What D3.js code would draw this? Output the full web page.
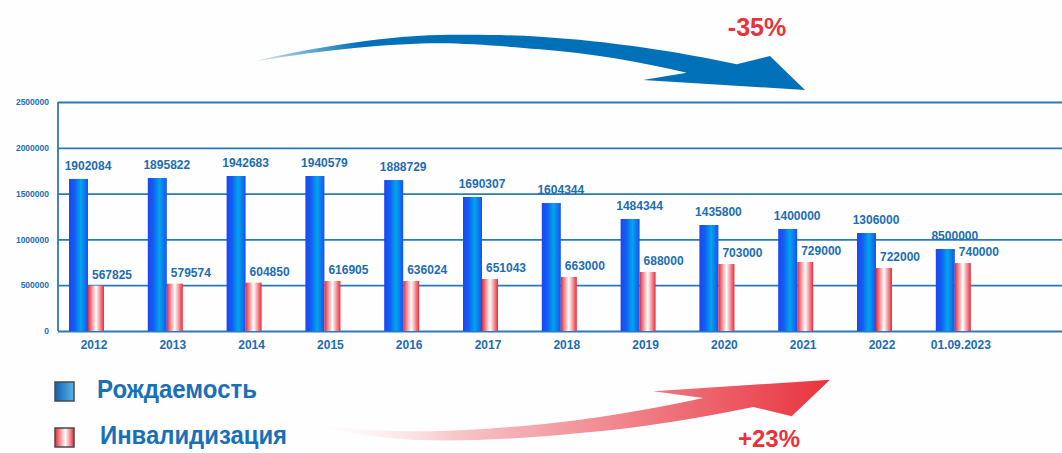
<!DOCTYPE html>
<html>
<head>
<meta charset="utf-8">
<script src="https://cdn.jsdelivr.net/npm/d3@7"></script>
<style>
    html, body { margin: 0; padding: 0; background: #fefefe; }
    svg { display: block; font-family: "Liberation Sans", Arial, sans-serif; }
</style>
</head>
<body>
<svg id="chart" width="1062" height="453"></svg>
<script>
// categories and values
const categories = ["2012", "2013", "2014", "2015", "2016", "2017", "2018", "2019", "2020", "2021", "2022", "01.09.2023"];
// bar heights as drawn in the picture
const birthValues = [1660000, 1670000, 1692000, 1692000, 1648000, 1463000, 1397000, 1223000, 1157000, 1114000, 1070000, 895000];
const disabilityValues = [495000, 517000, 528000, 546000, 546000, 568000, 590000, 644000, 731000, 753000, 688000, 742000];
// labels printed above the bars
const birthLabels = ["1902084", "1895822", "1942683", "1940579", "1888729", "1690307", "1604344", "1484344", "1435800", "1400000", "1306000", "8500000"];
const disabilityLabels = ["567825", "579574", "604850", "616905", "636024", "651043", "663000", "688000", "703000", "729000", "722000", "740000"];
const yTicks = [0, 500000, 1000000, 1500000, 2000000, 2500000];
const legendNames = ["Рождаемость", "Инвалидизация"];
const changeLabels = ["-35%", "+23%"];

const plot = { left: 58, right: 1062, top: 102, bottom: 331 };
const textBlue = "#1c6db3";
const gridBlue = "#2a7ab9";
const redText = "#e8333a";

const svg = d3.select("#chart");
const defs = svg.append("defs");

// gradients
function hGrad(id, stops) {
    let g = defs.append("linearGradient").attr("id", id)
        .attr("x1", "0%").attr("x2", "100%").attr("y1", "0%").attr("y2", "0%");
    stops.forEach(s => g.append("stop").attr("offset", s[0]).attr("stop-color", s[1]));
}
hGrad("blueBar", [["0%", "#1e44f6"], ["30%", "#1060f2"], ["62%", "#00a6ea"], ["100%", "#1e4ef2"]]);
hGrad("redBar", [["0%", "#e62a35"], ["50%", "#ffffff"], ["100%", "#e82a38"]]);
hGrad("blueKey", [["0%", "#1560b0"], ["100%", "#55b6ea"]]);
hGrad("redKey", [["0%", "#e62a35"], ["55%", "#ffffff"], ["100%", "#e62a35"]]);

defs.append("linearGradient").attr("id", "blueArrow")
    .attr("gradientUnits", "userSpaceOnUse")
    .attr("x1", 253).attr("x2", 360).attr("y1", 0).attr("y2", 0)
    .call(g => {
        g.append("stop").attr("offset", "0%").attr("stop-color", "#0070b8").attr("stop-opacity", 0.15);
        g.append("stop").attr("offset", "100%").attr("stop-color", "#0070b8").attr("stop-opacity", 1);
    });
defs.append("linearGradient").attr("id", "redArrow")
    .attr("gradientUnits", "userSpaceOnUse")
    .attr("x1", 300).attr("x2", 830).attr("y1", 0).attr("y2", 0)
    .call(g => {
        g.append("stop").attr("offset", "0%").attr("stop-color", "#ffffff").attr("stop-opacity", 0);
        g.append("stop").attr("offset", "30%").attr("stop-color", "#f7c4c7");
        g.append("stop").attr("offset", "100%").attr("stop-color", "#e8333f");
    });

// scales
const x = d3.scaleBand().domain(categories).range([48.6, 994.2]).paddingInner(0);
const y = d3.scaleLinear().domain([0, 2500000]).range([plot.bottom, plot.top]);
const center = c => x(c) + x.bandwidth() / 2;
const blueW = 19, redW = 16;

// grid + y axis
const yAxis = d3.axisLeft(y)
    .tickValues(yTicks)
    .tickSize(-(plot.right - plot.left))
    .tickPadding(9)
    .tickFormat(d3.format("d"));

svg.append("g")
    .attr("transform", `translate(${plot.left},0)`)
    .call(yAxis)
    .call(g => g.select(".domain").remove())
    .call(g => g.selectAll(".tick line").attr("stroke", gridBlue).attr("stroke-width", 1.8))
    .call(g => g.selectAll(".tick text")
        .attr("fill", textBlue)
        .attr("font-size", 8.5)
        .attr("font-weight", "bold")
        .attr("font-family", "Liberation Sans, Arial, sans-serif"));

svg.append("line")
    .attr("x1", plot.left).attr("x2", plot.left)
    .attr("y1", plot.top).attr("y2", plot.bottom)
    .attr("stroke", gridBlue).attr("stroke-width", 1.8);

// bars
const groups = svg.append("g").selectAll("g")
    .data(categories)
    .join("g");

groups.append("rect")
    .attr("x", c => center(c) - blueW)
    .attr("width", blueW)
    .attr("y", (c, i) => y(birthValues[i]))
    .attr("height", (c, i) => y(0) - y(birthValues[i]))
    .attr("fill", "url(#blueBar)");

groups.append("rect")
    .attr("x", c => center(c))
    .attr("width", redW)
    .attr("y", (c, i) => y(disabilityValues[i]))
    .attr("height", (c, i) => y(0) - y(disabilityValues[i]))
    .attr("fill", "url(#redBar)");

// value labels
groups.append("text")
    .attr("x", c => center(c))
    .attr("y", (c, i) => y(birthValues[i]) - 9)
    .attr("text-anchor", "middle")
    .attr("font-size", 12)
    .attr("font-weight", "bold")
    .attr("fill", textBlue)
    .text((c, i) => birthLabels[i]);

groups.append("text")
    .attr("x", c => center(c) + 4)
    .attr("y", (c, i) => y(disabilityValues[i]) - 7)
    .attr("font-size", 12)
    .attr("font-weight", "bold")
    .attr("fill", textBlue)
    .text((c, i) => disabilityLabels[i]);

// category labels
groups.append("text")
    .attr("x", c => center(c) + 6)
    .attr("y", 349)
    .attr("text-anchor", "middle")
    .attr("font-size", 12)
    .attr("font-weight", "bold")
    .attr("fill", textBlue)
    .text(c => c);

// decorative arrows
svg.append("path")
    .attr("d", "M253,61.7 C300,50 380,36 440,35 C480,34.5 510,35 540,36.7 C610,41 680,52 736.7,64.3 L770,56 L805,90 L643,80 L686.7,72.7 C640,62 590,53 540,49.3 C500,46 470,43.5 440,43.3 C390,43.5 330,49 253,61.7 Z")
    .attr("fill", "url(#blueArrow)");

svg.append("path")
    .attr("d", "M300,423 C360,431 400,431.5 430,431.3 C480,430 530,426 580,419.7 C630,413 670,405 703.3,398 L653.3,391.3 L830,379.7 L791.7,416.3 L753.3,407 C700,418 640,428 580,433 C530,438 480,441 430,440.3 C390,440 350,434 300,423 Z")
    .attr("fill", "url(#redArrow)");

svg.append("text")
    .attr("x", 757).attr("y", 36)
    .attr("text-anchor", "middle")
    .attr("font-size", 25).attr("font-weight", "bold")
    .attr("fill", redText)
    .text(changeLabels[0]);

svg.append("text")
    .attr("x", 769).attr("y", 447)
    .attr("text-anchor", "middle")
    .attr("font-size", 24).attr("font-weight", "bold")
    .attr("fill", redText)
    .text(changeLabels[1]);

// legend
const legend = svg.append("g");
const keyFills = ["url(#blueKey)", "url(#redKey)"];
const keyTop = [382, 428];
const textX = [97, 100];
const textLen = [160, 187];

legendNames.forEach((name, i) => {
    legend.append("rect")
        .attr("x", 55).attr("y", keyTop[i])
        .attr("width", 19).attr("height", 19)
        .attr("fill", keyFills[i])
        .attr("stroke", "#4a4a4a").attr("stroke-width", 1.5);
    legend.append("text")
        .attr("x", textX[i]).attr("y", keyTop[i] + 16)
        .attr("font-size", 25).attr("font-weight", "bold")
        .attr("fill", "#1a70b6")
        .attr("textLength", textLen[i])
        .attr("lengthAdjust", "spacingAndGlyphs")
        .text(name);
});
</script>
</body>
</html>
